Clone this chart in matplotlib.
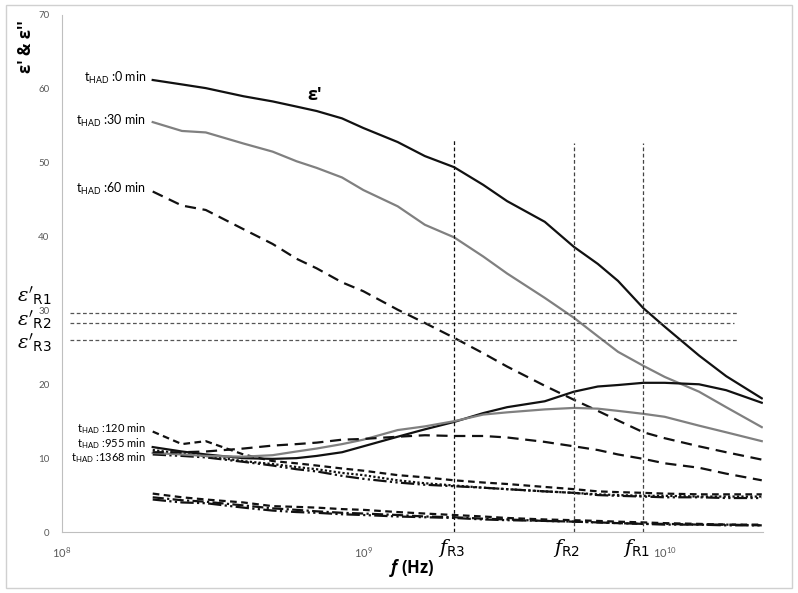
import matplotlib
matplotlib.use("Agg")
import matplotlib.pyplot as plt
from matplotlib.patches import Rectangle

plt.rcParams["font.family"] = ["Lato", "DejaVu Sans"]
plt.rcParams["mathtext.fontset"] = "custom"
plt.rcParams["mathtext.rm"] = "Lato"
plt.rcParams["mathtext.it"] = "Lato:italic"
plt.rcParams["mathtext.bf"] = "Open Sans:bold"
plt.rcParams["mathtext.bfit"] = "Open Sans:bold:italic"

# shared frequency grid (Hz)
freq = [2e8, 2.5e8, 3e8, 4e8, 5e8, 6e8, 7e8, 8.5e8, 1e9, 1.3e9, 1.6e9, 2e9,
        2.5e9, 3e9, 4e9, 5e9, 6e9, 7e9, 8.5e9, 1e10, 1.3e10, 1.6e10, 2.1e10]

# real permittivity eps'
eps1_0 = [61.2, 60.6, 60.1, 59.0, 58.3, 57.6, 57.0, 56.0, 54.7, 52.8, 50.9, 49.4,
          47.0, 44.8, 42.0, 38.6, 36.3, 34.0, 30.3, 27.8, 23.9, 21.1, 18.1]
eps1_30 = [55.5, 54.3, 54.1, 52.6, 51.5, 50.2, 49.3, 48.0, 46.3, 44.1, 41.6, 39.9,
           37.3, 35.0, 31.7, 29.0, 26.5, 24.4, 22.5, 21.0, 19.0, 16.9, 14.2]
eps1_60 = [46.1, 44.2, 43.6, 41.0, 39.0, 37.0, 35.7, 33.8, 32.6, 30.1, 28.3, 26.3,
           24.2, 22.4, 19.8, 17.9, 16.4, 15.1, 13.5, 12.7, 11.6, 10.8, 9.8]
eps1_120 = [13.6, 11.9, 12.3, 10.5, 9.6, 9.3, 9.0, 8.6, 8.3, 7.7, 7.4, 7.0,
            6.7, 6.5, 6.1, 5.8, 5.5, 5.4, 5.3, 5.2, 5.1, 5.1, 5.1]
eps1_955 = [11.1, 10.6, 10.3, 9.6, 9.2, 8.8, 8.5, 8.0, 7.7, 7.0, 6.6, 6.3,
            6.0, 5.8, 5.5, 5.3, 5.1, 5.0, 4.9, 4.9, 4.8, 4.8, 4.8]
eps1_1368 = [10.5, 10.3, 10.1, 9.5, 9.0, 8.5, 8.2, 7.6, 7.2, 6.7, 6.4, 6.2,
             6.0, 5.8, 5.5, 5.3, 5.0, 4.9, 4.8, 4.7, 4.7, 4.6, 4.6]

# imaginary permittivity eps''
eps2_0 = [11.5, 10.9, 10.5, 10.0, 9.9, 10.0, 10.3, 10.8, 11.6, 12.9, 13.9, 14.9,
          16.1, 16.9, 17.7, 19.0, 19.7, 19.9, 20.2, 20.2, 20.0, 19.2, 17.5]
eps2_30 = [10.7, 10.5, 10.3, 10.2, 10.4, 10.9, 11.3, 11.9, 12.5, 13.8, 14.3, 15.0,
           15.9, 16.2, 16.6, 16.8, 16.7, 16.4, 16.0, 15.6, 14.4, 13.5, 12.3]
eps2_60 = [10.8, 10.8, 10.9, 11.3, 11.7, 11.9, 12.1, 12.5, 12.6, 12.9, 13.1, 13.0,
           13.0, 12.8, 12.2, 11.6, 11.1, 10.5, 9.9, 9.3, 8.7, 7.9, 7.0]
eps2_120 = [5.2, 4.7, 4.4, 4.0, 3.5, 3.4, 3.3, 3.1, 3.0, 2.7, 2.5, 2.3,
            2.1, 1.9, 1.7, 1.6, 1.5, 1.4, 1.3, 1.2, 1.1, 1.0, 1.0]
eps2_955 = [4.7, 4.3, 4.1, 3.6, 3.2, 3.0, 2.8, 2.6, 2.5, 2.3, 2.1, 2.0,
            1.8, 1.7, 1.5, 1.4, 1.3, 1.2, 1.1, 1.1, 1.0, 1.0, 0.9]
eps2_1368 = [4.4, 4.0, 3.9, 3.3, 2.9, 2.7, 2.6, 2.4, 2.3, 2.1, 2.0, 1.9,
             1.7, 1.6, 1.5, 1.4, 1.3, 1.2, 1.1, 1.0, 1.0, 0.9, 0.9]

# resonance markers
f_res = [8.5e9, 5e9, 2e9]
f_res_labels = ["R1", "R2", "R3"]
eps_res = [29.6, 28.3, 26.0]
eps_res_end = [1.75e10, 1.7e10, 1.75e10]
h_start = 1.063e8

curve_labels = [(61.5, ":0 min", 9), (55.6, ":30 min", 9), (46.4, ":60 min", 9),
                (14.0, ":120 min", 8), (12.0, ":955 min", 8), (10.1, ":1368 min", 8)]

GRAY = "#808080"
BLACK = "#111111"
DASH = (0, (5, 3))
SHORT = (0, (3, 2))
DOT = (0, (1, 1))
DDOT = (0, (6, 1.5, 1, 1.5, 1, 1.5))
DOTDASH = (0, (5, 1.5, 1, 1.5))

W, H = 798, 593
fig = plt.figure(figsize=(W / 100, H / 100), dpi=100)
ax = fig.add_axes([62 / W, 1 - 532 / H, 701 / W, 517 / H])
fig.add_artist(Rectangle((6 / W, 5 / H), 786 / W, 583 / H,
                         transform=fig.transFigure, fill=False,
                         edgecolor="#d0d0d0", lw=1))

series = [
    (eps1_0, BLACK, "-"), (eps1_30, GRAY, "-"), (eps1_60, BLACK, DASH),
    (eps1_120, BLACK, SHORT), (eps1_955, BLACK, DOT), (eps1_1368, BLACK, DDOT),
    (eps2_0, BLACK, "-"), (eps2_30, GRAY, "-"), (eps2_60, BLACK, DASH),
    (eps2_120, BLACK, SHORT), (eps2_955, BLACK, DOTDASH), (eps2_1368, BLACK, DDOT),
]
for vals, col, ls in series:
    ax.plot(freq, vals, color=col, ls=ls, lw=1.6)

# resonance guide lines
for e, xe in zip(eps_res, eps_res_end):
    ax.hlines(e, h_start, xe, colors="#555555", ls=(0, (3, 2)), lw=0.9)
for fr, top, col in zip(f_res, [52.7, 52.7, 53.1], ["#444444", "#444444", BLACK]):
    ax.vlines(fr, 0, top, colors=col, ls=(0, (3, 2)), lw=0.9)

ax.set_xscale("log")
ax.set_xlim(1e8, 2.12e10)
ax.set_ylim(0, 70)
ax.set_yticks(range(0, 71, 10))
ax.set_xticks([1e8, 1e9, 1e10])
ax.minorticks_off()
ax.tick_params(length=0, labelsize=7, labelcolor="#595959")
ax.tick_params(axis="x", pad=10, labelsize=8)
ax.tick_params(axis="y", pad=9)
for s in ["top", "right"]:
    ax.spines[s].set_visible(False)
for s in ["left", "bottom"]:
    ax.spines[s].set_color("#bfbfbf")

# labels
fig.text(26 / W, 1 - 47 / H, "ε' & ε''", rotation=90, fontsize=12,
         family="Open Sans", fontweight="bold", ha="center", va="center")
fig.text(412 / W, 1 - 568 / H, r"$\mathbfit{f}$ $\mathbf{(Hz)}$", fontsize=12,
         ha="center", va="center")
ax.text(6.9e8, 59.2, "ε'", fontsize=13, family="Open Sans", fontweight="bold",
        ha="center", va="center")

for yv, txt, fs in curve_labels:
    ax.text(1.9e8, yv, r"t$_{\mathrm{HAD}}$ " + txt, fontsize=fs,
            ha="right", va="center")

for lab, ypix in zip(f_res_labels, [296, 320, 343]):
    fig.text(34 / W, 1 - ypix / H, r"$\varepsilon'_{\mathsf{%s}}$" % lab,
             fontsize=14, math_fontfamily="dejavuserif", ha="center", va="center")
for fr, lab, dx in zip(f_res, f_res_labels, [-7, -7, -2]):
    ax.annotate(r"$f_{\mathsf{%s}}$" % lab, xy=(fr, 0), xytext=(dx, -16),
                textcoords="offset pixels", fontsize=14,
                math_fontfamily="dejavuserif", ha="center", va="center")

fig.savefig("out.png", dpi=100)
